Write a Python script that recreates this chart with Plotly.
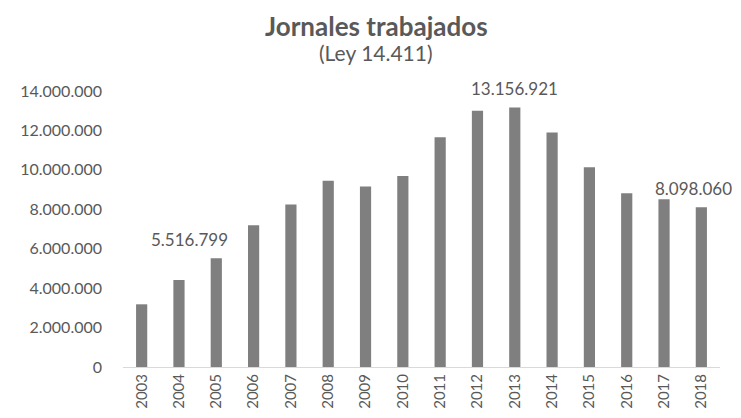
import plotly.graph_objects as go

years = [str(y) for y in range(2003, 2019)]
jornales = [3180000, 4410000, 5516799, 7190000, 8240000, 9450000, 9150000, 9690000,
            11650000, 13000000, 13156921, 11890000, 10130000, 8810000, 8510000, 8098060]
label_years = ["2005", "2013", "2018"]

def fmt(v):
    return f"{v:,}".replace(",", ".")

font_fam = "Lato, 'Open Sans', sans-serif"
grey = "#595959"

fig = go.Figure()
fig.add_trace(go.Bar(x=years, y=jornales, marker=dict(color="#7f7f7f", line=dict(width=0)),
                     width=0.3, hoverinfo="x+y"))

shifts = {"2005": (-27, 6), "2013": (0, 7), "2018": (-8, 6)}
for yr in label_years:
    i = years.index(yr)
    xs, ys = shifts[yr]
    fig.add_annotation(x=i, y=jornales[i], text=fmt(jornales[i]), showarrow=False,
                       yanchor="bottom", yshift=ys, xshift=xs,
                       font=dict(size=17, color=grey, family=font_fam))

fig.add_annotation(text="<b>Jornales trabajados</b>", xref="paper", yref="paper",
                   x=0.424, y=1.0, yshift=65, showarrow=False, xanchor="center",
                   yanchor="middle",
                   font=dict(size=26, color=grey, family=font_fam))
fig.add_annotation(text="(Ley 14.411)", xref="paper", yref="paper",
                   x=0.424, y=1.0, yshift=39, showarrow=False, xanchor="center",
                   yanchor="middle",
                   font=dict(size=21, color=grey, family=font_fam))

fig.update_layout(
    width=741, height=418,
    margin=dict(l=110, r=29, t=83, b=59),
    paper_bgcolor="white", plot_bgcolor="white",
    separators=",.",
    showlegend=False,
    font=dict(family=font_fam, color=grey),
    xaxis=dict(type="category", range=[-0.5, len(years) - 0.5], tickangle=-90,
               showgrid=False, showline=True,
               linecolor="#d9d9d9", linewidth=1, ticks="",
               tickfont=dict(size=15, color=grey, family=font_fam)),
    yaxis=dict(range=[0, 14000000], dtick=2000000, tickformat=",d", showgrid=False,
               zeroline=False, showline=False, ticks="", ticklabelstandoff=20,
               tickfont=dict(size=16, color=grey, family=font_fam)),
)

fig.write_html("out.html")
